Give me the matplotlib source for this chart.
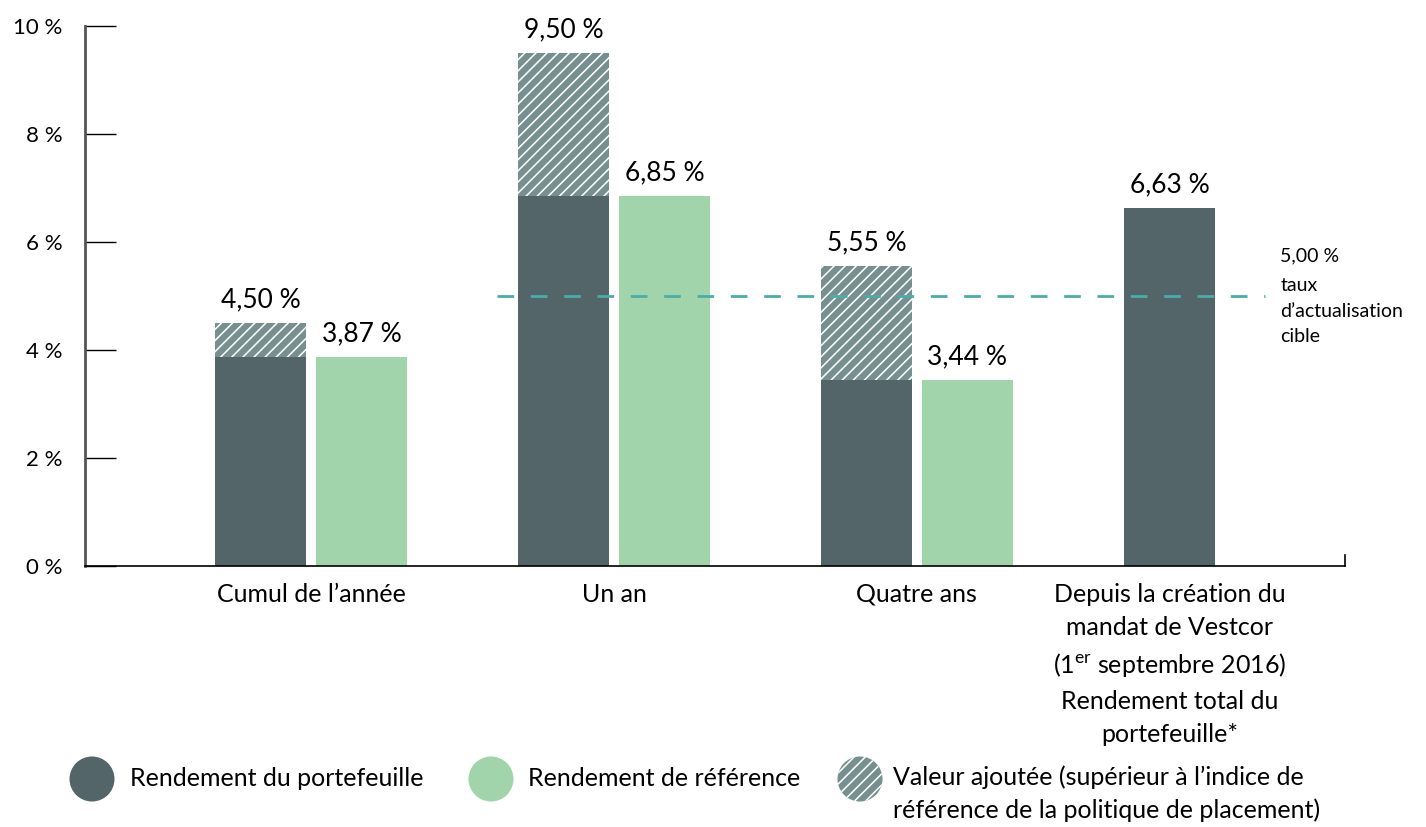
import numpy as np
import matplotlib
matplotlib.use("Agg")
import matplotlib.pyplot as plt
from matplotlib.patches import Circle

plt.rcParams['font.family'] = ['Lato', 'DejaVu Sans']
plt.rcParams['mathtext.fontset'] = 'custom'
plt.rcParams['mathtext.rm'] = 'Lato'
plt.rcParams['hatch.color'] = 'white'
plt.rcParams['hatch.linewidth'] = 1.1

# data
categories = [
    "Cumul de l\u2019ann\u00e9e",
    "Un an",
    "Quatre ans",
    "Depuis la cr\u00e9ation du\nmandat de Vestcor\n(1$^{\\rm er}$ septembre 2016)\nRendement total du\nportefeuille*",
]
portfolio = [4.50, 9.50, 5.55, 6.63]
benchmark = [3.87, 6.85, 3.44, np.nan]
target_rate = 5.00
yticks = [0, 2, 4, 6, 8, 10]

DARK = '#536568'
GREEN = '#a2d4ab'
HATCHED = '#77908f'
TEAL = '#4aadaa'


def pct(v):
    return f"{v:.2f} %".replace('.', ',')


fig = plt.figure(figsize=(14.26, 8.27), dpi=100)
ax = fig.add_axes([85 / 1426, 1 - 566 / 827, 1260 / 1426, 540 / 827])

x = np.arange(len(categories))
width = 0.30
off = 0.1667
bench = np.array(benchmark)
total = np.array(portfolio)
has_bench = ~np.isnan(bench)
base = np.where(has_bench, bench, total)
added = np.where(has_bench, total - bench, 0)
dark_x = x - off

ax.bar(dark_x, base, width, color=DARK, zorder=2)
ax.bar(dark_x[has_bench], added[has_bench], width, bottom=base[has_bench],
       color=HATCHED, hatch='///', edgecolor='white', linewidth=0, zorder=2)
ax.bar(x[has_bench] + off, bench[has_bench], width, color=GREEN, zorder=2)

for xi, v in zip(dark_x, total):
    ax.annotate(pct(v), (xi, v), xytext=(0, 8), textcoords='offset points',
                ha='center', va='bottom', fontsize=19)
for xi, v in zip(x[has_bench] + off, bench[has_bench]):
    ax.annotate(pct(v), (xi, v), xytext=(0, 8), textcoords='offset points',
                ha='center', va='bottom', fontsize=19)

# target discount rate
ax.plot([0.615, 3.15], [target_rate, target_rate], color=TEAL, lw=2,
        dashes=(6, 6), zorder=3)
ax.text(3.2, target_rate + 0.75, pct(target_rate), fontsize=14, va='center')
ax.text(3.2, target_rate - 0.28, "taux\nd\u2019actualisation\ncible",
        fontsize=14, va='center', linespacing=1.6)

ax.set_xlim(-0.746, 3.413)
ax.set_ylim(0, 10)
ax.set_yticks(yticks)
ax.set_yticklabels([f"{t} %" for t in yticks], fontsize=16)
ax.set_xticks(np.where(has_bench, x, dark_x))
ax.set_xticklabels(categories, fontsize=18, linespacing=1.55, va='top')
ax.tick_params(axis='x', length=0, pad=12)
ax.tick_params(axis='y', direction='in', length=22, width=1, pad=16,
               colors='black')

ax.spines['top'].set_visible(False)
ax.spines['right'].set_bounds(0, 0.2)
ax.spines['right'].set_linewidth(1.2)
ax.spines['left'].set_color('#555555')
ax.spines['left'].set_linewidth(2)
ax.spines['bottom'].set_linewidth(1.2)

# legend drawn in pixel coordinates
lg = fig.add_axes([0, 0, 1, 1], zorder=-1)
lg.set_xlim(0, 1426)
lg.set_ylim(827, 0)
lg.axis('off')
legend_items = [
    (92, 130, 'Rendement du portefeuille', DARK, None),
    (491, 528, 'Rendement de r\u00e9f\u00e9rence', GREEN, None),
    (860, 893, 'Valeur ajout\u00e9e (sup\u00e9rieur \u00e0 l\u2019indice de\n'
               'r\u00e9f\u00e9rence de la politique de placement)', HATCHED, '///'),
]
for cx, tx, label, col, hatch in legend_items:
    lg.add_patch(Circle((cx, 779), 22.5, facecolor=col, hatch=hatch,
                        edgecolor='white' if hatch else col, linewidth=0))
    lg.text(tx, 778 if hatch is None else 765, label, fontsize=18,
            va='center' if hatch is None else 'top', linespacing=1.5)

fig.savefig('out.png', dpi=100)
